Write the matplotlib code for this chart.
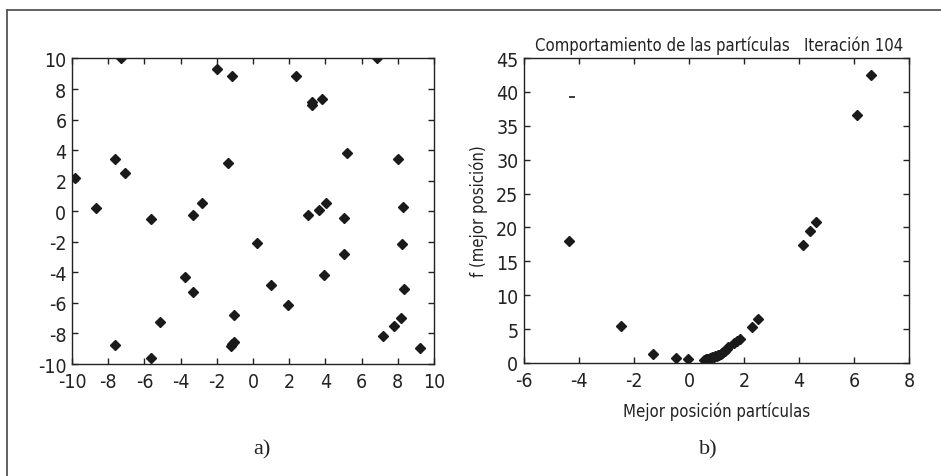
import matplotlib
matplotlib.use("Agg")
import matplotlib.pyplot as plt
from matplotlib.lines import Line2D
from matplotlib import font_manager as fm

# ---------------- data ----------------
# panel a) particle positions
a_x = [-7.3, -2.0, -1.15, 2.4, 6.85, 3.26, 3.26, 3.79, -1.38, 5.19, 8.03, 8.29,
       4.03, 3.63, 3.04, 5.04, -7.64, -7.07, -9.82, -8.69, -2.82, -3.33, -5.65,
       -3.76, -3.30, -5.14, -7.62, -5.65, -1.05, -1.23, -1.05, -1.14, 0.20, 0.98,
       1.92, 3.92, 5.05, 8.25, 8.34, 8.18, 7.79, 7.18, 9.23]
a_y = [10.0, 9.3, 8.85, 8.85, 10.0, 7.13, 6.98, 7.33, 3.14, 3.81, 3.42, 0.26,
       0.56, 0.10, -0.23, -0.47, 3.40, 2.52, 2.2, 0.21, 0.52, -0.27, -0.5,
       -4.29, -5.29, -7.24, -8.76, -9.63, -6.82, -8.81, -8.59, -8.7, -2.10, -4.81,
       -6.16, -4.20, -2.82, -2.15, -5.07, -6.97, -7.54, -8.17, -8.96]

# panel b) best positions vs f(best position)
b_x = [6.61, 6.10, -4.35, -2.47, -1.30, -0.47, -0.02,
       0.55, 0.60, 0.65, 0.70, 0.75, 0.80, 0.85, 0.90, 0.95, 1.00, 1.05, 1.10,
       1.15, 1.20, 1.25, 1.30, 1.37, 1.42,
       1.65, 1.75, 1.85, 2.30, 2.52, 4.16, 4.41, 4.61]
b_y = [42.5, 36.6, 18.0, 5.5, 1.28, 0.69, 0.59,
       0.50, 0.55, 0.60, 0.65, 0.70, 0.75, 0.82, 0.90, 0.97, 1.05, 1.12, 1.20,
       1.30, 1.42, 1.55, 1.75, 2.10, 2.40,
       2.90, 3.20, 3.55, 5.26, 6.49, 17.45, 19.47, 20.8]
dash_x = [-4.25]
dash_y = [39.3]

a_xticks = list(range(-10, 11, 2))
a_yticks = list(range(-10, 11, 2))
b_xticks = list(range(-6, 9, 2))
b_yticks = list(range(0, 46, 5))

title_b = "Comportamiento de las partículas"
iter_text = "Iteración 104"
xlabel_b = "Mejor posición partículas"
ylabel_b = "f (mejor posición)"

# ---------------- font choice ----------------
narrow = None
for f in fm.fontManager.ttflist:
    nm = f.name
    if (("Narrow" in nm or "Condensed" in nm or
         str(f.stretch) in ("condensed", "semi-condensed", "extra-condensed"))
            and f.style == "normal" and f.weight in (400, "normal", "regular", "book")):
        narrow = f
        break

if narrow is not None:
    FP = dict(fname=narrow.fname)
    tick_fs, lab_fs = 14, 12
else:
    FP = dict(family=["DejaVu Sans"])
    tick_fs, lab_fs = 12, 11

plt.rcParams["axes.linewidth"] = 1.0
plt.rcParams["axes.unicode_minus"] = False
tick_prop = fm.FontProperties(size=tick_fs, **FP)
lab_prop = fm.FontProperties(size=lab_fs, **FP)
serif_prop = fm.FontProperties(family=["Liberation Serif", "DejaVu Serif"], size=16)

fig = plt.figure(figsize=(9.41, 4.77), dpi=100)
INK = "#222222"
MS = 4.8

def style(ax):
    ax.tick_params(direction="in", length=4, width=1.0, top=True, right=True,
                   colors=INK, labelcolor=INK)
    ax.tick_params(axis="x", pad=6)
    ax.tick_params(axis="y", pad=4)
    for lab in ax.get_xticklabels() + ax.get_yticklabels():
        lab.set_fontproperties(tick_prop)
    for s in ax.spines.values():
        s.set_color(INK)

ax1 = fig.add_axes([0.0765, 0.2348, 0.3847, 0.6405])
ax1.plot(a_x, a_y, linestyle="none", marker="D", markersize=MS, color="#1a1a1a")
ax1.set_xlim(-10, 10)
ax1.set_ylim(-10, 10)
ax1.set_xticks(a_xticks)
ax1.set_yticks(a_yticks)
style(ax1)

ax2 = fig.add_axes([0.5569, 0.2369, 0.4091, 0.6394])
ax2.plot(b_x, b_y, linestyle="none", marker="D", markersize=MS, color="#1a1a1a")
ax2.plot(dash_x, dash_y, linestyle="none", marker="_", markersize=5, mew=1.2, color="#1a1a1a")
ax2.set_xlim(-6, 8)
ax2.set_ylim(0, 45)
ax2.set_xticks(b_xticks)
ax2.set_yticks(b_yticks)
style(ax2)
ax2.set_xlabel(xlabel_b, fontproperties=lab_prop, color=INK, labelpad=8)
ax2.set_ylabel(ylabel_b, fontproperties=lab_prop, color=INK, labelpad=6)
ax2.text(0.36, 1.012, title_b, transform=ax2.transAxes, ha="center", va="bottom",
         fontproperties=lab_prop, color=INK)
ax2.text(0.855, 1.012, iter_text, transform=ax2.transAxes, ha="center", va="bottom",
         fontproperties=lab_prop, color=INK)

fig.text(262 / 941, 1 - 450 / 477, "a)", ha="center", va="center",
         fontproperties=serif_prop, color=INK)
fig.text(708 / 941, 1 - 450 / 477, "b)", ha="center", va="center",
         fontproperties=serif_prop, color=INK)

# outer frame (top and left lines)
fig.add_artist(Line2D([7 / 941, 1.0], [1 - 11 / 477, 1 - 11 / 477],
                      transform=fig.transFigure, color="#555555", linewidth=1.3))
fig.add_artist(Line2D([7 / 941, 7 / 941], [0, 1 - 11 / 477],
                      transform=fig.transFigure, color="#555555", linewidth=1.3))

fig.savefig("out.png", dpi=100, facecolor="white")
